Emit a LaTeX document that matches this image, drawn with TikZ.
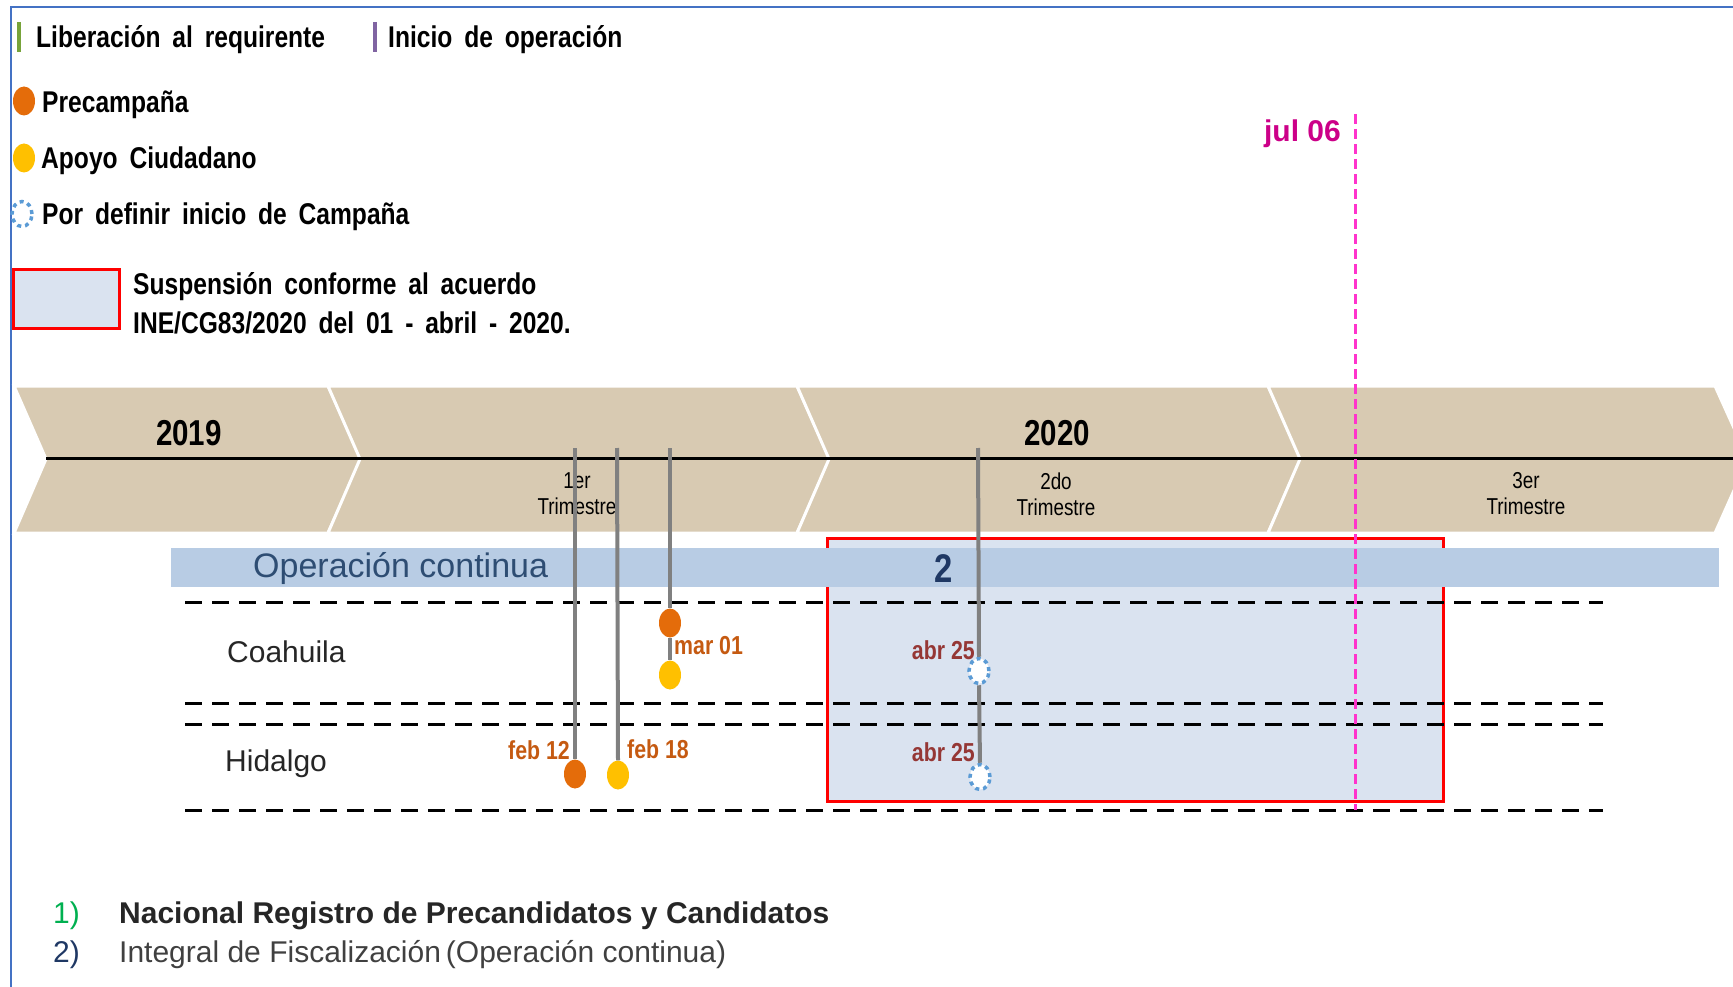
\documentclass[tikz,border=0pt]{standalone}
\usepackage{fontspec}
\setmainfont{Liberation Sans}
\newfontfamily\narrowsf{Liberation Sans}[FakeStretch=0.82]
\usepackage{xcolor}
\usetikzlibrary{shapes.geometric}

\definecolor{chevfill}{HTML}{D8CAB2}
\definecolor{bandblue}{HTML}{B8CCE4}
\definecolor{suspfill}{HTML}{DAE3F0}
\definecolor{stemgray}{HTML}{808080}
\definecolor{precol}{HTML}{E46C0A}
\definecolor{apoyocol}{HTML}{FFC000}
\definecolor{defblue}{HTML}{5B9BD5}
\definecolor{datecol}{HTML}{C55A11}
\definecolor{abrcol}{HTML}{953735}
\definecolor{julcol}{HTML}{CC0088}
\definecolor{julline}{HTML}{FF33CC}
\definecolor{opcol}{HTML}{2E4D73}
\definecolor{framecol}{HTML}{4472C4}
\definecolor{libgreen}{HTML}{77A33A}
\definecolor{iniciopurple}{HTML}{8064A2}
\definecolor{numgreen}{HTML}{00B050}
\definecolor{numblue}{HTML}{1F3864}

\tikzset{
  legtext/.style={anchor=west, inner sep=0pt, text=black, font=\narrowsf\bfseries\fontsize{30}{34}\selectfont},
  chev/.style={fill=chevfill, draw=white, line width=3pt},
  stem/.style={draw=stemgray, line width=4pt},
  rowline/.style={dash pattern=on 17pt off 10pt, line width=3pt},
  pre/.style={ellipse, fill=precol, minimum width=22pt, minimum height=29pt, inner sep=0pt},
  apoyo/.style={ellipse, fill=apoyocol, minimum width=22pt, minimum height=29pt, inner sep=0pt},
  pordef/.style={ellipse, draw=defblue, fill=white, dash pattern=on 4pt off 4pt, line width=3.5pt, minimum width=20pt, minimum height=25pt, inner sep=0pt},
  datelbl/.style={inner sep=0pt, text=datecol, font=\narrowsf\bfseries\fontsize{26}{28}\selectfont},
  abrlbl/.style={datelbl, text=abrcol},
  rowlbl/.style={anchor=west, inner sep=0pt, text=black!85, font=\fontsize{30}{34}\selectfont},
  trim/.style={align=center, inner sep=0pt, font=\narrowsf\fontsize{23}{26}\selectfont},
  year/.style={inner sep=0pt, font=\narrowsf\bfseries\fontsize{36}{40}\selectfont}
}

\begin{document}
\begin{tikzpicture}[x=1pt, y=-1pt]
  \useasboundingbox (0,0) rectangle (1733,987);

  % frame
  \draw[framecol, line width=2pt] (11,987) -- (11,7) -- (1733,7);

  % legend
  \draw[libgreen, line width=4pt] (19,22) -- (19,52);
  \node[legtext] (lib) at (36,40) {Liberación\, al\, requirente};
  \draw[iniciopurple, line width=4pt] (375,22) -- (375,52);
  \node[legtext] (ini) at (388,40) {Inicio\, de\, operación};
  \node[pre] (lpre) at (24,101) {};
  \node[legtext] (lpret) at (42,105) {Precampaña};
  \node[apoyo] (lapo) at (24,158) {};
  \node[legtext] (lapot) at (41,161) {Apoyo\, Ciudadano};
  \node[pordef] (ldef) at (22,214) {};
  \node[legtext] (ldeft) at (42,217) {Por\, definir\, inicio\, de\, Campaña};
  \draw[red, fill=suspfill, line width=3pt] (13,270) rectangle (119,328);
  \node[legtext] (susp1) at (133,287) {Suspensión\, conforme\, al\, acuerdo};
  \node[legtext] (susp2) at (133,323) {INE/CG83/2020\, del\, 01\, -\, abril\, -\, 2020.};

  % timeline
  \foreach \l/\r in {14/328, 328/797, 797/1268, 1268/1715}
    \draw[chev] (\l,386) -- (\r,386) -- ({\r+33},459) -- (\r,533) -- (\l,533) -- ({\l+32},459) -- cycle;
  \draw[line width=3pt] (46,458) -- (1733,458);
  \node[year] (y19) at (189,433) {2019};
  \node[year] (y20) at (1057,433) {2020};
  \node[trim] (q1) at (577,494) {1er\\Trimestre};
  \node[trim] (q2) at (1056,494) {2do\\Trimestre};
  \node[trim] (q3) at (1526,494) {3er\\Trimestre};

  % suspension and operacion continua
  \draw[red, fill=suspfill, line width=3pt] (827,538) rectangle (1443,801);
  \fill[bandblue] (171,548) rectangle (1719,587);
  \node[anchor=west, inner sep=0pt, text=opcol, font=\fontsize{34}{38}\selectfont] (opc) at (253,569) {Operación continua};
  \node[inner sep=0pt, text=numblue, font=\narrowsf\bfseries\fontsize{40}{44}\selectfont] (two) at (944,569) {2};

  % rows
  \foreach \y in {602, 703, 724, 810}
    \draw[rowline] (185,\y) -- (1603,\y);
  \node[rowlbl] (coa) at (227,652) {Coahuila};
  \node[rowlbl] (hgo) at (225,764) {Hidalgo};

  % milestones
  \coordinate (t1) at (575,448);
  \coordinate (t2) at (617,448);
  \coordinate (t3) at (670,448);
  \coordinate (t4) at (978,448);
  \node[pre] (o1) at (670,623) {};
  \node[apoyo] (a1) at (670,675) {};
  \node[pre] (o2) at (575,774) {};
  \node[apoyo] (a2) at (618,775) {};
  \node[pordef] (c1) at (979,671) {};
  \node[pordef] (c2) at (980,777) {};
  \draw[stem] (t1) -- (o2.north);
  \draw[stem] (t2) -- (a2.north);
  \draw[stem] (t3) -- (o1.north);
  \draw[stem] (o1.south) -- (a1.north);
  \draw[stem] (t4) -- (c1.north);
  \draw[stem] (c1.south) -- (c2.north);

  \node[datelbl, anchor=west] (mar) at (674,646) {mar 01};
  \node[datelbl, anchor=east] (f12) at (570,750) {feb 12};
  \node[datelbl, anchor=west] (f18) at (627,749) {feb 18};
  \node[abrlbl, anchor=east] (abr1) at (975,650) {abr 25};
  \node[abrlbl, anchor=east] (abr2) at (975,752) {abr 25};

  % jul 06
  \coordinate (jtop) at (1355,114);
  \coordinate (jbot) at (1355,810);
  \draw[julline, line width=3pt, dash pattern=on 10pt off 5pt] (jtop) -- (jbot);
  \node[anchor=east, inner sep=0pt, text=julcol, font=\bfseries\fontsize{30}{34}\selectfont] (jul) at (1341,134) {jul 06};

  % notes
  \node[anchor=west, inner sep=0pt, text=numgreen, font=\fontsize{30}{34}\selectfont] (n1) at (53,916) {1)};
  \node[anchor=west, inner sep=0pt, text=black!85, font=\bfseries\fontsize{30}{34}\selectfont] (n1t) at (119,916) {Nacional Registro de Precandidatos y Candidatos};
  \node[anchor=west, inner sep=0pt, text=numblue, font=\fontsize{30}{34}\selectfont] (n2) at (53,955) {2)};
  \node[anchor=west, inner sep=0pt, text=black!75, font=\fontsize{30}{34}\selectfont] (n2t) at (119,955) {Integral de Fiscalización\,(Operación continua)};
\end{tikzpicture}
\end{document}
